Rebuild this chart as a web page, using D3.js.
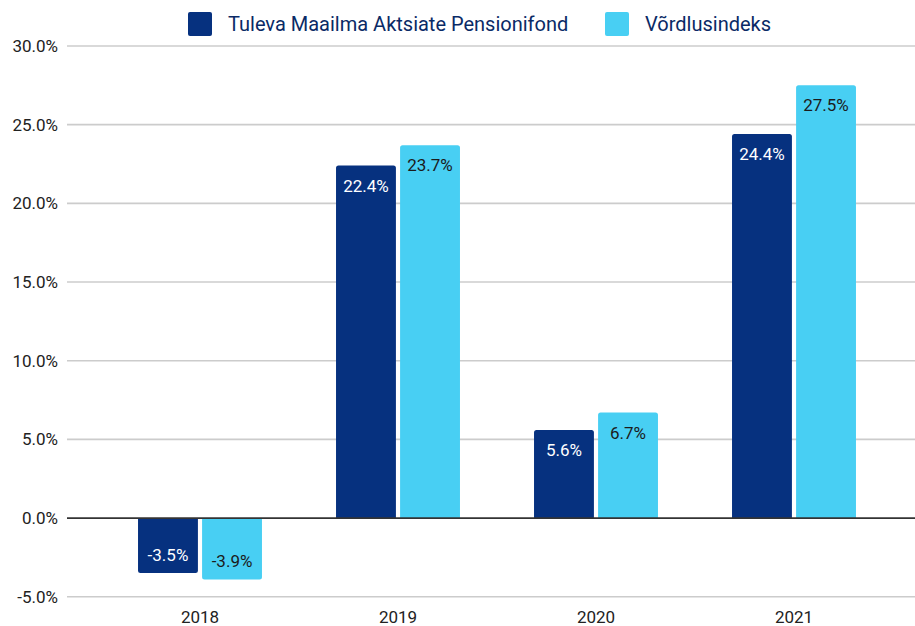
<!DOCTYPE html>
<html><head><meta charset="utf-8">
<script src="https://cdn.jsdelivr.net/npm/d3@7"></script>
<style>body{margin:0;background:#fff}svg{display:block;font-family:Roboto,"Noto Sans",sans-serif}</style>
</head><body><svg id="c" width="915" height="626"></svg>
<script>
const categories = ["2018","2019","2020","2021"];
const seriesNames = ["Tuleva Maailma Aktsiate Pensionifond","Võrdlusindeks"];
const fundValues = [-3.5, 22.4, 5.6, 24.4];
const indexValues = [-3.9, 23.7, 6.7, 27.5];
const yTicks = [-5, 0, 5, 10, 15, 20, 25, 30];
const colors = ["#06317f", "#48cff3"];
const labelColors = ["#ffffff", "#1b1b1b"];

const svg = d3.select("#c");
const y = d3.scaleLinear().domain([-5, 30]).range([596.7, 46]);
const x0 = d3.scaleBand().domain(categories).range([101, 893]).paddingInner(0.374).paddingOuter(0.187);
const x1 = d3.scaleBand().domain([0,1]).range([0, x0.bandwidth()]).paddingInner(0.065);

// gridlines
svg.append("g").selectAll("line").data(yTicks.filter(d=>d!==0)).join("line")
  .attr("x1",67).attr("x2",915).attr("y1",d=>y(d)).attr("y2",d=>y(d))
  .attr("stroke","#cccccc").attr("stroke-width",1.6);

// y labels
svg.append("g").selectAll("text").data(yTicks).join("text")
  .attr("x",58).attr("y",d=>y(d)).attr("dy","0.35em").attr("text-anchor","end")
  .attr("font-size",17).attr("fill","#222").text(d=>d.toFixed(1)+"%");

// x labels
svg.append("g").selectAll("text").data(categories).join("text")
  .attr("x",d=>x0(d)+x0.bandwidth()/2).attr("y",623).attr("text-anchor","middle")
  .attr("font-size",17).attr("fill","#222").text(d=>d);

const data = [fundValues, indexValues];
function barPath(xl, w, v){
  const r = 2.5;
  const y0 = y(0), y1 = y(v);
  if (v >= 0) {
    return `M${xl},${y0}V${y1+r}Q${xl},${y1} ${xl+r},${y1}H${xl+w-r}Q${xl+w},${y1} ${xl+w},${y1+r}V${y0}Z`;
  } else {
    return `M${xl},${y0}V${y1-r}Q${xl},${y1} ${xl+r},${y1}H${xl+w-r}Q${xl+w},${y1} ${xl+w},${y1-r}V${y0}Z`;
  }
}
const g = svg.append("g");
data.forEach((vals, si) => {
  categories.forEach((c, i) => {
    const xl = x0(c) + x1(si), w = x1.bandwidth(), v = vals[i];
    g.append("path").attr("d", barPath(xl, w, v)).attr("fill", colors[si]);
    const ly = v >= 0 ? y(v) + 20 : y(v) - 18;
    g.append("text").attr("x", xl + w/2).attr("y", ly).attr("dy","0.35em").attr("text-anchor","middle")
      .attr("font-size",17).attr("fill",labelColors[si]).text(v.toFixed(1)+"%");
  });
});

// zero line
svg.append("line").attr("x1",67).attr("x2",915).attr("y1",y(0)).attr("y2",y(0))
  .attr("stroke","#333").attr("stroke-width",1.8);

// legend
const legend = [{x:188, tx:228},{x:605, tx:645}];
seriesNames.forEach((n,i)=>{
  svg.append("rect").attr("x",legend[i].x).attr("y",12).attr("width",24).attr("height",24).attr("rx",2).attr("fill",colors[i]);
  svg.append("text").attr("x",legend[i].tx).attr("y",31).attr("font-size",20)
    .attr("fill","#0a2a66").text(n);
});
</script></body></html>
